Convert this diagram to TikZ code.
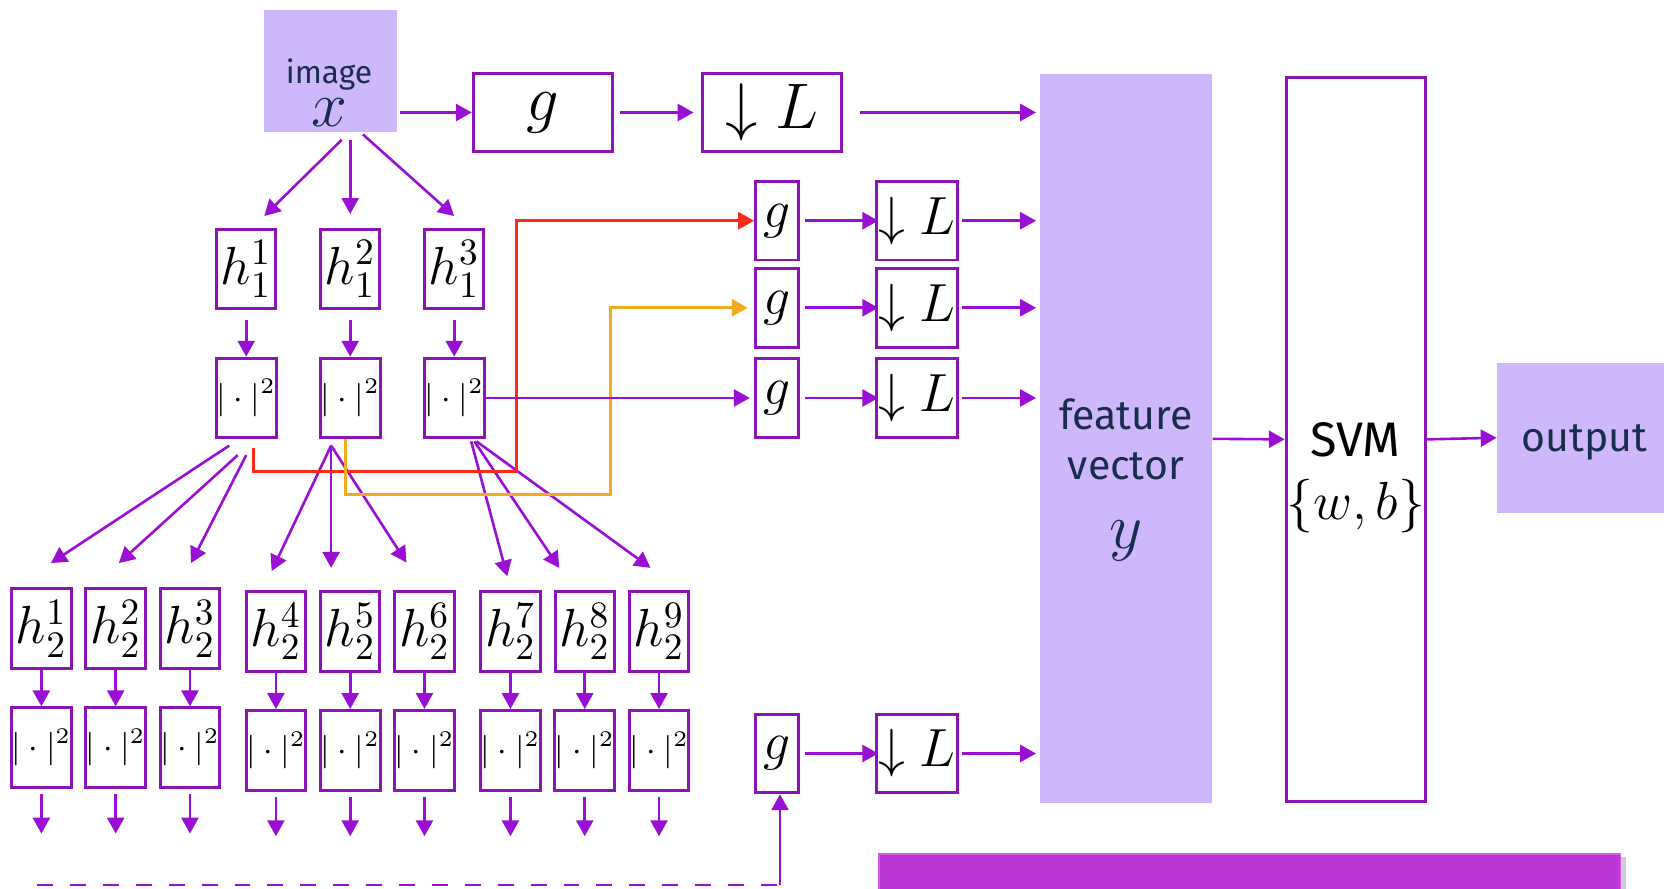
\documentclass[tikz,border=0pt]{standalone}
\usepackage{fontspec}
\setsansfont{Fira Sans}
\usetikzlibrary{arrows.meta,shadows}

\definecolor{lav}{HTML}{CEB8FB}
\definecolor{pur}{HTML}{9A0FD4}
\definecolor{pbord}{HTML}{8A14B4}
\definecolor{navy}{HTML}{1A2D4C}
\definecolor{rline}{HTML}{FF2A1A}
\definecolor{oline}{HTML}{F0AC1E}
\definecolor{barfill}{HTML}{BC38D6}
\definecolor{baredge}{HTML}{D65CE8}

\newcommand{\abssize}{\fontsize{8.8}{8.8}\selectfont}
\newcommand{\mathsize}{\fontsize{14.5}{14.5}\selectfont}

\tikzset{
  arr/.style={draw=pur,line width=0.7pt,-{Triangle[length=1.5mm,width=1.6mm]}},
  hbox/.style={draw=pbord,line width=0.8pt,inner sep=0pt,
    minimum width=0.56cm,minimum height=0.75cm,font=\mathsize},
  gbox/.style={hbox,minimum width=0.40cm,minimum height=0.74cm},
  lbox/.style={hbox,minimum width=0.76cm,minimum height=0.74cm},
  fillbox/.style={fill=lav,inner sep=0pt,text=navy}
}

\begin{document}
\begin{tikzpicture}
  \useasboundingbox (0,0) rectangle (15.68,-8.37);

  % input and classifier blocks
  \node[fillbox,minimum width=1.25cm,minimum height=1.15cm] (img) at (3.115,-0.665) {};
  \node[font=\sffamily\fontsize{8.5}{10.5}\selectfont,text=navy,align=center] (imgtxt) at (3.10,-0.87)
    {image\\[1pt]\fontsize{16}{16}\selectfont$x$};
  \node[fillbox,minimum width=1.62cm,minimum height=6.87cm] (fv) at (10.61,-4.135) {};
  \node[font=\sffamily\fontsize{11}{13.5}\selectfont,text=navy,align=center] (fvtxt) at (10.61,-4.52)
    {feature\\vector\\[5pt]\fontsize{16}{16}\selectfont$y$};
  \node[draw=pbord,line width=0.8pt,minimum width=1.31cm,minimum height=6.82cm] (svm) at (12.775,-4.14) {};
  \node[font=\sffamily\fontsize{13}{17}\selectfont,align=center] (svmtxt) at (12.775,-4.50)
    {SVM\\\fontsize{15}{17}\selectfont$\{w,b\}$};
  \node[fillbox,minimum width=1.7cm,minimum height=1.41cm] (out) at (14.96,-4.125) {};
  \node[font=\sffamily\fontsize{11}{13}\selectfont,text=navy] (outtxt) at (14.93,-4.17) {output};
  \draw[arr] (fv.east) -- (svm.west);
  \draw[arr] (svm.east) -- (out.west);

  % zeroth order path
  \node[gbox,minimum width=1.31cm,font=\fontsize{16}{16}\selectfont] (g0) at (5.115,-1.06) {$g$};
  \node[gbox,minimum width=1.31cm,font=\fontsize{16}{16}\selectfont] (L0) at (7.275,-1.06) {$\downarrow L$};
  \draw[arr,shorten <=0.02cm] (img.east |- g0.west) -- (g0.west);
  \draw[arr,shorten <=0.06cm,shorten >=0.07cm] (g0) -- (L0);
  \draw[arr,shorten <=0.16cm,shorten >=0.03cm] (L0.east) -- (fv.west |- L0.east);

  % first layer
  \foreach \i/\x in {1/2.32,2/3.30,3/4.28}{
    \node[hbox] (h1\i) at (\x,-2.535) {$h_1^{\i}$};
    \node[hbox,font=\abssize] (s1\i) at (\x,-3.75) {$|\cdot|^2$};
    \draw[arr,shorten <=0.09cm] (h1\i) -- (s1\i);
  }
  \draw[arr] ([shift={(0.105,-0.07)}]img.south) -- ([shift={(0.17,0.11)}]h11.north);
  \draw[arr] ([shift={(0.185,-0.07)}]img.south) -- ([shift={(0,0.13)}]h12.north);
  \draw[arr] ([shift={(0.305,-0.02)}]img.south) -- ([shift={(0,0.11)}]h13.north);

  % second layer
  \foreach \i/\x/\y in {1/0.39/5.925,2/1.09/5.925,3/1.79/5.925,4/2.60/5.95,5/3.30/5.95,
                        6/4.00/5.95,7/4.81/5.95,8/5.51/5.95,9/6.21/5.95}{
    \node[hbox] (h2\i) at (\x,-\y) {$h_2^{\i}$};
    \node[hbox,font=\abssize] (s2\i) at (\x,-\y-1.12) {$|\cdot|^2$};
    \draw[arr] (h2\i) -- (s2\i);
    \coordinate (o\i) at (\x,-\y-1.93);
    \draw[arr,shorten <=0.05cm] (s2\i) -- (o\i);
  }
  \foreach \s/\a/\b/\t/\c/\d in {1/-0.16/-0.06/1/0.09/0.23, 1/-0.08/-0.15/2/0.03/0.23,
      1/0/-0.15/3/0.01/0.23, 2/-0.18/-0.06/4/-0.04/0.18, 2/-0.18/-0.06/5/-0.18/0.21,
      2/-0.18/-0.06/6/-0.17/0.26, 3/0.16/-0.02/7/-0.03/0.13, 3/0.19/-0.02/8/-0.24/0.21,
      3/0.21/-0.02/9/-0.08/0.21}
    \draw[arr] ([shift={(\a,\b)}]s1\s.south) -- ([shift={(\c,\d)}]h2\t.north);

  % first order paths
  \foreach \i/\y in {1/2.08,2/2.90,3/3.75,4/7.10}{
    \node[gbox] (g\i) at (7.32,-\y) {$g$};
    \node[lbox] (L\i) at (8.64,-\y) {$\downarrow L$};
    \draw[arr,shorten <=0.05cm,shorten >=-0.03cm] (g\i) -- (L\i);
    \draw[arr,shorten <=0.03cm,shorten >=0.03cm] (L\i.east) -- (fv.west |- L\i.east);
  }
  \coordinate (rbend) at (4.87,-4.44);
  \coordinate (obend) at (5.75,-4.66);
  \draw[arr,draw=rline,line width=0.8pt] ([shift={(0.07,-0.08)}]s11.south) |- (rbend) |- (g1.west);
  \draw[arr,draw=oline,line width=0.8pt,shorten >=0.06cm] ([xshift=-0.04cm]s12.south) |- (obend) |- (g2.west);
  \draw[arr,shorten >=0.04cm] (s13.east) -- (g3.west);

  % remaining paths
  \coordinate (dstart) at (0.35,-8.34);
  \coordinate (dturn) at (7.35,-8.34);
  \draw[draw=pur,line width=0.7pt,dash pattern=on 1.5mm off 1.6mm] (dstart) -- (dturn);
  \draw[arr] (dturn) -- (dturn |- g4.south);

  \node[draw=baredge,fill=barfill,line width=0.5pt,minimum width=6.99cm,minimum height=0.6cm,inner sep=0pt,
    drop shadow={shadow xshift=0.05cm,shadow yshift=-0.03cm,opacity=0.4}] (bar) at (11.775,-8.35) {};
\end{tikzpicture}
\end{document}
